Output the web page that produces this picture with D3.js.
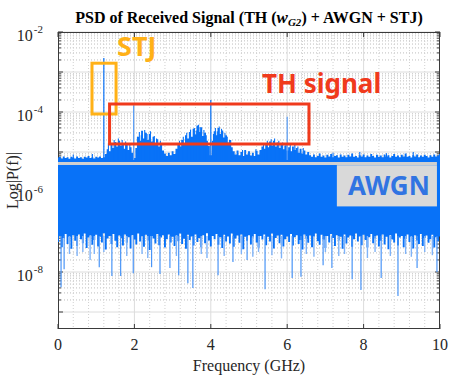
<!DOCTYPE html>
<html>
<head>
<meta charset="utf-8">
<script src="https://cdn.jsdelivr.net/npm/d3@7"></script>
<style>
  body { margin: 0; background: #fff; }
  svg { display: block; }
</style>
</head>
<body>
<div id="chart"></div>
<script>
// PSD of received signal: TH + AWGN + STJ
const width = 463, height = 380;
const margin = {top: 32, right: 23, bottom: 51, left: 58};

// frequency bin of the envelopes (GHz)
const binGHz = 0.05;

// log10 of the upper edge of the PSD in each bin
const psdUpperLog = [
  -5.14,-5.12,-5.16,-5.11,-5.15,-5.13,-5.17,-5.12,-5.14,-5.16,-5.11,-5.15,-5.13,-5.17,-5.12,-5.14,-5.10,-5.15,-5.13,-5.16,
  -5.12,-5.14,-5.11,-5.15,-5.13,-5.05,-4.93,-4.98,-4.82,-4.90,-4.75,-4.86,-4.72,-4.84,-4.78,-4.92,-4.80,-4.95,-4.88,-5.02,
  -5.15,-4.90,-4.62,-4.72,-4.47,-4.66,-4.52,-4.70,-4.55,-4.74,-4.62,-4.80,-4.68,-4.86,-4.78,-4.96,-5.04,-5.10,-5.02,-5.08,
  -4.98,-5.05,-4.92,-4.80,-4.86,-4.70,-4.78,-4.58,-4.66,-4.50,-4.62,-4.42,-4.56,-4.34,-4.50,-4.38,-4.60,-4.52,-4.72,-4.85,
  -5.08,-4.72,-4.48,-4.58,-4.40,-4.55,-4.46,-4.64,-4.58,-4.76,-4.70,-4.88,-4.98,-5.06,-4.96,-5.08,-5.00,-5.10,-4.95,-5.06,
  -4.98,-5.09,-5.02,-5.10,-4.97,-5.06,-4.95,-4.86,-4.92,-4.78,-4.88,-4.74,-4.84,-4.72,-4.86,-4.76,-4.90,-4.80,-4.93,-4.84,
  -4.96,-4.88,-4.98,-4.86,-4.95,-4.90,-5.02,-4.92,-5.04,-4.96,-5.06,-5.00,-5.08,-5.12,-5.06,-5.13,-5.10,-5.04,-5.12,-5.09,
  -5.14,-5.07,-5.11,-5.05,-5.13,-5.10,-5.08,-5.14,-5.06,-5.12,-5.09,-5.13,-5.07,-5.11,-5.04,-5.12,-5.10,-5.14,-5.08,-5.11,
  -5.06,-5.13,-5.09,-5.12,-5.05,-5.10,-5.14,-5.07,-5.12,-5.09,-5.13,-5.06,-5.11,-5.08,-5.14,-5.10,-5.05,-5.12,-5.09,-5.13,
  -5.07,-5.11,-5.04,-5.12,-5.10,-5.14,-5.08,-5.11,-5.06,-5.13,-5.09,-5.12,-5.07,-5.10,-5.14,-5.08,-5.12,-5.06,-5.11,-5.09,
  -5.05
];

// log10 of the lower edge of the dense noise band in each bin
const psdLowerLog = [
  -7.25,-7.10,-7.38,-7.15,-7.05,-7.30,-7.12,-7.42,-7.08,-7.22,-7.35,-7.06,-7.18,-7.28,-7.04,-7.40,-7.14,-7.09,-7.32,-7.20,
  -7.07,-7.36,-7.12,-7.26,-7.03,-7.44,-7.16,-7.10,-7.30,-7.05,-7.22,-7.38,-7.09,-7.15,-7.34,-7.06,-7.27,-7.13,-7.41,-7.08,
  -7.19,-7.31,-7.04,-7.24,-7.11,-7.37,-7.07,-7.21,-7.45,-7.10,-7.16,-7.29,-7.05,-7.33,-7.14,-7.08,-7.39,-7.18,-7.06,-7.26,
  -7.12,-7.35,-7.09,-7.23,-7.04,-7.30,-7.17,-7.42,-7.07,-7.20,-7.11,-7.34,-7.06,-7.25,-7.15,-7.38,-7.08,-7.28,-7.03,-7.21,
  -7.36,-7.10,-7.18,-7.05,-7.32,-7.13,-7.40,-7.07,-7.24,-7.11,-7.29,-7.04,-7.37,-7.16,-7.09,-7.27,-7.06,-7.43,-7.12,-7.22,
  -7.08,-7.31,-7.14,-7.05,-7.26,-7.39,-7.10,-7.19,-7.06,-7.33,-7.12,-7.24,-7.04,-7.41,-7.15,-7.09,-7.28,-7.07,-7.36,-7.18,
  -7.11,-7.25,-7.05,-7.34,-7.13,-7.08,-7.30,-7.20,-7.44,-7.06,-7.17,-7.27,-7.09,-7.38,-7.12,-7.04,-7.23,-7.32,-7.07,-7.19,
  -7.40,-7.10,-7.26,-7.05,-7.15,-7.35,-7.08,-7.21,-7.12,-7.42,-7.06,-7.29,-7.14,-7.09,-7.37,-7.18,-7.04,-7.24,-7.11,-7.33,
  -7.07,-7.20,-7.39,-7.13,-7.05,-7.28,-7.16,-7.09,-7.36,-7.22,-7.06,-7.31,-7.12,-7.43,-7.08,-7.19,-7.26,-7.04,-7.34,-7.14,
  -7.10,-7.38,-7.17,-7.06,-7.25,-7.12,-7.41,-7.08,-7.21,-7.30,-7.05,-7.35,-7.15,-7.09,-7.27,-7.18,-7.07,-7.39,-7.13,-7.23,
  -7.11
];

// narrow spikes on top of the envelope [GHz, log10 P]
const topSpikes = [
  [0.40,-5.06],[0.90,-5.05],[1.32,-4.78],[1.47,-4.70],[1.58,-4.66],[1.68,-4.70],[1.77,-4.74],[1.88,-4.80],
  [2.08,-4.62],[2.13,-4.50],[2.18,-4.58],[2.27,-4.45],[2.33,-4.55],[2.42,-4.48],[2.52,-4.60],[2.58,-4.66],[2.68,-4.72],
  [3.18,-4.72],[3.28,-4.62],[3.37,-4.52],[3.47,-4.44],[3.57,-4.40],[3.62,-4.46],[3.68,-4.32],[3.72,-4.38],[3.82,-4.45],[3.88,-4.58],
  [4.07,-4.55],[4.12,-4.40],[4.17,-4.48],[4.22,-4.36],[4.28,-4.42],[4.37,-4.52],[4.43,-4.62],[4.52,-4.70],
  [4.83,-4.95],[5.18,-4.93],[5.38,-4.80],[5.48,-4.72],[5.58,-4.68],[5.67,-4.66],[5.78,-4.72],[5.88,-4.76],[5.97,-4.80],
  [6.08,-4.82],[6.28,-4.86],[6.42,-4.90],[7.20,-5.02],[7.90,-5.00],[8.60,-5.03],[9.30,-5.00]
];

// deep single-sample dips below the band [GHz, log10 P]
const deepDips = [
  [0.08,-8.38],[0.16,-7.93],[1.08,-7.88],[1.41,-8.10],[1.64,-8.10],[1.97,-8.03],[2.45,-7.88],[2.67,-8.05],
  [2.93,-7.90],[3.16,-8.08],[3.40,-8.28],[3.53,-8.40],[4.19,-8.08],[4.58,-7.75],[4.95,-7.70],[5.42,-8.43],
  [6.13,-8.15],[6.36,-8.12],[6.94,-7.83],[7.17,-7.90],[7.70,-8.18],[7.93,-8.45],[8.46,-8.15],[8.90,-8.60],
  [9.40,-7.90],[9.92,-8.00]
];
const shallowDips = [
  [0.30,-7.55],[0.50,-7.60],[0.65,-7.50],[0.84,-7.70],[0.95,-7.55],[1.20,-7.50],[1.80,-7.60],[2.20,-7.55],
  [2.35,-7.65],[3.10,-7.60],[3.75,-7.55],[3.90,-7.65],[4.35,-7.60],[4.80,-7.55],[5.10,-7.62],[5.25,-7.50],
  [5.60,-7.58],[5.85,-7.66],[6.50,-7.55],[6.70,-7.62],[7.00,-7.50],[7.35,-7.60],[7.50,-7.55],[8.10,-7.65],
  [8.30,-7.50],[8.70,-7.60],[9.10,-7.55],[9.25,-7.62],[9.60,-7.50],[9.80,-7.58]
];

// narrow tones above the floor [GHz, log10 P]
const tones = [[1.20,-2.65],[1.98,-3.83],[4.00,-3.70],[6.00,-4.12],[6.20,-4.80]];
const toneBaseLog = -5.2;

const xTicks = [0, 2, 4, 6, 8, 10];
const xMinorStep = 0.4;
const yDecades = [-9, -8, -7, -6, -5, -4, -3, -2];
const yLabelDecades = [-2, -4, -6, -8];
const yMinorMults = [2, 3, 4, 5, 6, 7, 8, 9];
const yMinExp = -9.425;

// annotation boxes, in data units (GHz, log10 P)
const stjBox = {f0: 0.89, f1: 1.52, p0: -4.05, p1: -2.78};
const thBox = {f0: 1.35, f1: 6.57, p0: -4.80, p1: -3.80};
const awgnLineLog = -5.29;
const awgnBox = {f0: 7.30, f1: 9.92, p0: -6.36, p1: -5.33};

const blue = '#0872f8';
const stjColor = '#ffb117';
const thColor = '#f03a1c';

const svg = d3.select('#chart').append('svg')
    .attr('width', width)
    .attr('height', height);

const x = d3.scaleLinear()
    .domain([0, 10])
    .range([margin.left, width - margin.right]);
const y = d3.scaleLog()
    .domain([Math.pow(10, yMinExp), 1e-2])
    .range([height - margin.bottom, margin.top]);
const yl = v => y(Math.pow(10, v));

const x0 = x.range()[0], x1 = x.range()[1];
const y0 = y.range()[1], y1 = y.range()[0];

svg.append('defs').append('clipPath').attr('id', 'plot-clip')
  .append('rect')
    .attr('x', x0).attr('y', y0)
    .attr('width', x1 - x0).attr('height', y1 - y0);

// grid
const grid = svg.append('g').attr('id', 'grid');
const minorY = [];
yDecades.forEach(e => yMinorMults.forEach(m => {
  const v = m * Math.pow(10, e);
  if (v > y.domain()[0] && v < y.domain()[1]) minorY.push(v);
}));
grid.selectAll('line.minor-y')
  .data(minorY)
  .join('line')
    .attr('x1', x0).attr('x2', x1)
    .attr('y1', d => y(d)).attr('y2', d => y(d))
    .attr('stroke', '#bdbdbd')
    .attr('stroke-dasharray', '1 2');
const minorX = d3.range(0, 10, xMinorStep).filter(d => Math.abs(d / 2 - Math.round(d / 2)) > 1e-6);
grid.selectAll('line.minor-x')
  .data(minorX)
  .join('line')
    .attr('x1', d => x(d)).attr('x2', d => x(d))
    .attr('y1', y0).attr('y2', y1)
    .attr('stroke', '#d0d0d0')
    .attr('stroke-dasharray', '1 2');
grid.selectAll('line.major-y')
  .data(yDecades)
  .join('line')
    .attr('x1', x0).attr('x2', x1)
    .attr('y1', d => yl(d)).attr('y2', d => yl(d))
    .attr('stroke', '#dcdcdc');
grid.selectAll('line.major-x')
  .data(xTicks.slice(1, -1))
  .join('line')
    .attr('x1', d => x(d)).attr('x2', d => x(d))
    .attr('y1', y0).attr('y2', y1)
    .attr('stroke', '#dcdcdc');

// axes box and ticks (under the data, like MATLAB's bottom layer)
const axes = svg.append('g').attr('id', 'axes')
    .attr('stroke', '#3a3a3a').attr('fill', 'none');
axes.append('rect')
    .attr('x', x0 + 0.5).attr('y', y0 + 0.5)
    .attr('width', x1 - x0 - 1).attr('height', y1 - y0 - 1);
yDecades.forEach(e => {
  axes.append('line').attr('x1', x0).attr('x2', x0 + 5).attr('y1', yl(e)).attr('y2', yl(e));
  axes.append('line').attr('x1', x1 - 5).attr('x2', x1).attr('y1', yl(e)).attr('y2', yl(e));
});
minorY.forEach(v => {
  axes.append('line').attr('x1', x0).attr('x2', x0 + 3).attr('y1', y(v)).attr('y2', y(v));
  axes.append('line').attr('x1', x1 - 3).attr('x2', x1).attr('y1', y(v)).attr('y2', y(v));
});
xTicks.forEach(t => {
  axes.append('line').attr('x1', x(t)).attr('x2', x(t)).attr('y1', y1).attr('y2', y1 - 5);
  axes.append('line').attr('x1', x(t)).attr('x2', x(t)).attr('y1', y0).attr('y2', y0 + 5);
});

// PSD
const plot = svg.append('g').attr('clip-path', 'url(#plot-clip)');
const bins = psdUpperLog.map((u, i) => ({f: i * binGHz, hi: u, lo: psdLowerLog[i]}));
const area = d3.area()
    .curve(d3.curveStep)
    .x(d => x(d.f))
    .y0(d => yl(d.lo))
    .y1(d => yl(d.hi));
plot.append('path')
    .datum(bins)
    .attr('d', area)
    .attr('fill', blue);

plot.selectAll('line.spike')
  .data(topSpikes)
  .join('line')
    .attr('x1', d => x(d[0])).attr('x2', d => x(d[0]))
    .attr('y1', yl(toneBaseLog)).attr('y2', d => yl(d[1]))
    .attr('stroke', blue).attr('stroke-width', 1.1);
plot.selectAll('line.shallow')
  .data(shallowDips)
  .join('line')
    .attr('x1', d => x(d[0])).attr('x2', d => x(d[0]))
    .attr('y1', yl(-7.1)).attr('y2', d => yl(d[1]))
    .attr('stroke', '#7fb3f8').attr('stroke-width', 1.4);
plot.selectAll('line.deep')
  .data(deepDips)
  .join('line')
    .attr('x1', d => x(d[0])).attr('x2', d => x(d[0]))
    .attr('y1', yl(-7.1)).attr('y2', d => yl(d[1]))
    .attr('stroke', '#4a95f7').attr('stroke-width', 1.2);
plot.selectAll('line.tone')
  .data(tones)
  .join('line')
    .attr('x1', d => x(d[0])).attr('x2', d => x(d[0]))
    .attr('y1', yl(toneBaseLog)).attr('y2', d => yl(d[1]))
    .attr('stroke', (d, i) => i === 1 || i === 3 ? '#5a9ef7' : blue)
    .attr('stroke-width', 1.2);

// AWGN marker
svg.append('line')
    .attr('x1', x0).attr('x2', x(awgnBox.f1))
    .attr('y1', yl(awgnLineLog)).attr('y2', yl(awgnLineLog))
    .attr('stroke', '#cfcfcf').attr('stroke-width', 3);
svg.append('rect')
    .attr('x', x(awgnBox.f0)).attr('y', yl(awgnBox.p1))
    .attr('width', x(awgnBox.f1) - x(awgnBox.f0))
    .attr('height', yl(awgnBox.p0) - yl(awgnBox.p1))
    .attr('fill', '#d9d9d9');
svg.append('text')
    .attr('x', (x(awgnBox.f0) + x(awgnBox.f1)) / 2 + 2)
    .attr('y', yl(awgnBox.p0) - 11)
    .attr('text-anchor', 'middle')
    .style('font', 'bold 26px "Noto Sans", sans-serif')
    .attr('fill', '#3174e2')
    .text('AWGN');

// STJ and TH boxes
svg.append('rect')
    .attr('x', x(stjBox.f0)).attr('y', yl(stjBox.p1))
    .attr('width', x(stjBox.f1) - x(stjBox.f0))
    .attr('height', yl(stjBox.p0) - yl(stjBox.p1))
    .attr('fill', 'none').attr('stroke', stjColor).attr('stroke-width', 3);
svg.append('text')
    .attr('x', 117).attr('y', 56)
    .style('font', 'bold 27px "Noto Sans", sans-serif')
    .attr('fill', stjColor)
    .text('STJ');
svg.append('rect')
    .attr('x', x(thBox.f0)).attr('y', yl(thBox.p1))
    .attr('width', x(thBox.f1) - x(thBox.f0))
    .attr('height', yl(thBox.p0) - yl(thBox.p1))
    .attr('fill', 'none').attr('stroke', thColor).attr('stroke-width', 3);
svg.append('text')
    .attr('x', 262).attr('y', 93)
    .style('font', 'bold 26px "Noto Sans", sans-serif')
    .attr('fill', thColor)
    .text('TH signal');

// tick labels
const serif = '"Liberation Serif", "Times New Roman", serif';
svg.append('g').selectAll('text')
  .data(xTicks)
  .join('text')
    .attr('x', d => x(d)).attr('y', y1 + 21)
    .attr('text-anchor', 'middle')
    .style('font', `16px ${serif}`)
    .attr('fill', '#262626')
    .text(d => d);
const yLab = svg.append('g').selectAll('text')
  .data(yLabelDecades)
  .join('text')
    .attr('x', x0 - 15).attr('y', d => yl(d) + 9)
    .attr('text-anchor', 'end')
    .style('font', `16px ${serif}`)
    .attr('fill', '#262626');
yLab.append('tspan').text('10');
yLab.append('tspan')
    .attr('dx', 1).attr('dy', -8)
    .style('font-size', '11px')
    .text(d => '-' + Math.abs(d));

svg.append('text')
    .attr('x', (x0 + x1) / 2).attr('y', 371)
    .attr('text-anchor', 'middle')
    .style('font', `16px ${serif}`)
    .attr('fill', '#262626')
    .text('Frequency (GHz)');
svg.append('text')
    .attr('transform', `translate(18,${(y0 + y1) / 2}) rotate(-90)`)
    .attr('text-anchor', 'middle')
    .style('font', `16px ${serif}`)
    .attr('fill', '#262626')
    .text('Log|P(f)|');

// title
const title = svg.append('text')
    .attr('x', (x0 + x1) / 2).attr('y', 23)
    .attr('text-anchor', 'middle')
    .style('font', `bold 16px ${serif}`)
    .attr('fill', '#000');
title.append('tspan').text('PSD of Received Signal (TH (');
title.append('tspan').style('font-style', 'italic').style('font-size', '17px').text('w');
title.append('tspan').style('font-style', 'italic').style('font-size', '11px').attr('dy', 3).text('G2');
title.append('tspan').attr('dy', -3).text(') + AWGN + STJ)');
</script>
</body>
</html>
